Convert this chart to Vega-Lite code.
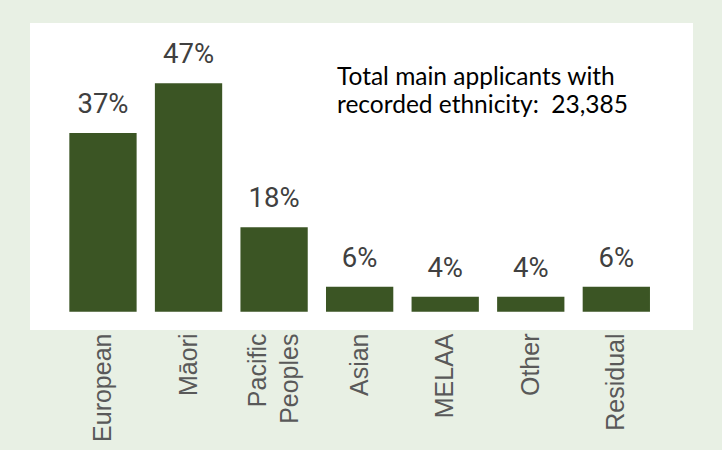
{
  "$schema": "https://vega.github.io/schema/vega-lite/v6.json",
  "width": 663,
  "height": 307,
  "padding": {"left": 30, "top": 23, "right": 29, "bottom": 10},
  "background": "#e8f0e4",
  "view": {"fill": "#ffffff", "stroke": null},
  "datasets": {
    "eth": [
      {"ethnicity": "European", "pct": 37, "label": "37%"},
      {"ethnicity": "Māori", "pct": 47, "label": "47%"},
      {"ethnicity": "Pacific Peoples", "pct": 18, "label": "18%"},
      {"ethnicity": "Asian", "pct": 6, "label": "6%"},
      {"ethnicity": "MELAA", "pct": 4, "label": "4%"},
      {"ethnicity": "Other", "pct": 4, "label": "4%"},
      {"ethnicity": "Residual", "pct": 6, "label": "6%"}
    ],
    "note": [
      {"note": "Total main applicants with\nrecorded ethnicity:\u00a0 23,385"}
    ]
  },
  "layer": [
    {
      "data": {"name": "eth"},
      "mark": {"type": "bar", "color": "#3b5524"},
      "encoding": {
        "x": {
          "field": "ethnicity", "type": "nominal", "sort": null,
          "scale": {"range": [30.2, 629.1], "paddingInner": 0.2135, "paddingOuter": 0.10675},
          "axis": {
            "title": null, "domain": false, "ticks": false,
            "labelAngle": -90, "labelAlign": "right", "labelBaseline": "middle",
            "labelFont": "Liberation Sans", "labelFontSize": 25, "labelColor": "#595959",
            "labelPadding": 3, "labelLineHeight": 32, "labelLimit": 0,
            "labelExpr": "datum.value == 'Pacific Peoples' ? ['Pacific', 'Peoples'] : datum.value",
            "labelOffset": {"condition": {"test": "datum.value == 'Pacific Peoples'", "value": -16}, "value": 0}
          }
        },
        "y": {
          "field": "pct", "type": "quantitative",
          "scale": {"domain": [1, 47], "range": [288.7, 60.3], "zero": false, "nice": false},
          "axis": null
        },
        "y2": {"datum": 1}
      }
    },
    {
      "data": {"name": "eth"},
      "mark": {"type": "text", "font": "Roboto", "fontSize": 27.5, "color": "#404040", "baseline": "alphabetic", "dy": -20},
      "encoding": {
        "x": {"field": "ethnicity", "type": "nominal", "sort": null},
        "y": {"field": "pct", "type": "quantitative"},
        "text": {"field": "label"}
      }
    },
    {
      "data": {"name": "note"},
      "mark": {"type": "text", "font": "Lato", "fontSize": 24.5, "color": "#000000", "align": "left", "baseline": "alphabetic", "lineBreak": "\n", "lineHeight": 28.5, "dx": 11},
      "encoding": {
        "x": {"datum": "Asian", "type": "nominal", "bandPosition": 0},
        "y": {"datum": 46.7, "type": "quantitative"},
        "text": {"field": "note"}
      }
    }
  ]
}
